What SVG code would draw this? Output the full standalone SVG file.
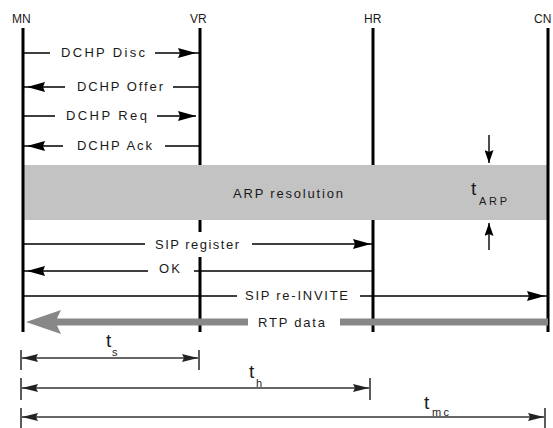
<svg xmlns="http://www.w3.org/2000/svg" width="553" height="428" viewBox="0 0 553 428">
<style>
  text { font-family: "Liberation Sans", Arial, sans-serif; fill: #1a1a1a; }
  .hdr { font-size: 12px; }
  .msg { font-size: 13px; }
  .life { stroke: #000; stroke-width: 3; fill: none; }
  .m { stroke: #000; stroke-width: 1.4; fill: none; }
  .dim { stroke: #333; stroke-width: 1.5; fill: none; }
  .tick { stroke: #333; stroke-width: 1.6; }
  .tbig { font-size: 19px; }
  .tsub { font-size: 11px; }
</style>
<defs>
  <marker id="ah" markerUnits="userSpaceOnUse" viewBox="0 0 18 10" refX="18" refY="5" markerWidth="18" markerHeight="10" orient="auto">
    <path d="M0 0 L18 5 L0 10 L2 5 Z" fill="#000"/>
  </marker>
  <marker id="dh" markerUnits="userSpaceOnUse" viewBox="0 0 16 8" refX="16" refY="4" markerWidth="16" markerHeight="8" orient="auto">
    <path d="M0 0 L16 4 L0 8 L2 4 Z" fill="#222"/>
  </marker>
  <marker id="vh" markerUnits="userSpaceOnUse" viewBox="0 0 13 9" refX="13" refY="4.5" markerWidth="13" markerHeight="9" orient="auto">
    <path d="M0 0 L13 4.5 L0 9 L2 4.5 Z" fill="#000"/>
  </marker>
</defs>
<rect width="553" height="428" fill="#fff"/>

<g id="arp">
  <rect x="23" y="165" width="525" height="55" fill="#c3c3c3"/>
  <text class="msg" x="233" y="198" textLength="110" lengthAdjust="spacing">ARP resolution</text>
</g>

<g id="MN">
  <text class="hdr" x="12" y="23">MN</text>
  <path class="life" d="M23 28 V332"/>
</g>
<g id="VR">
  <text class="hdr" x="190" y="23">VR</text>
  <path class="life" d="M200 28 V165 M200 220 V232 M200 257 V332"/>
</g>
<g id="HR">
  <text class="hdr" x="364" y="23">HR</text>
  <path class="life" d="M373 28 V165 M373 220 V332"/>
</g>
<g id="CN">
  <text class="hdr" x="534" y="23">CN</text>
  <path class="life" d="M548 28 V332"/>
</g>

<g id="connectors">
  <path class="m" d="M23 53 H50 M155 53 H200 M180 53 H196" marker-end="url(#ah)"/>
  <text class="msg" x="61" y="57" textLength="84" lengthAdjust="spacing">DCHP Disc</text>

  <path class="m" d="M200 87 H173 M65 87 H23 M40 87 H27" marker-end="url(#ah)"/>
  <text class="msg" x="77" y="90.5" textLength="86" lengthAdjust="spacing">DCHP Offer</text>

  <path class="m" d="M23 116 H55 M157 116 H196" marker-end="url(#ah)"/>
  <text class="msg" x="66" y="120" textLength="81" lengthAdjust="spacing">DCHP Req</text>

  <path class="m" d="M200 146 H165 M63 146 H23 M40 146 H27" marker-end="url(#ah)"/>
  <text class="msg" x="77" y="150" textLength="75" lengthAdjust="spacing">DCHP Ack</text>

  <path class="m" d="M23 244 H145 M252 244 H373 M360 244 H371" marker-end="url(#ah)"/>
  <text class="msg" x="155" y="248.5" textLength="84" lengthAdjust="spacing">SIP register</text>

  <path class="m" d="M373 271 H194 M148 271 H23 M40 271 H27" marker-end="url(#ah)"/>
  <text class="msg" x="159" y="272.5" textLength="21" lengthAdjust="spacing">OK</text>

  <path class="m" d="M23 296 H237 M360 296 H548 M535 296 H545" marker-end="url(#ah)"/>
  <text class="msg" x="245" y="300" textLength="103" lengthAdjust="spacing">SIP re-INVITE</text>

  <polygon points="26,322 61,310 57,318.5 248,318.5 248,325.5 57,325.5 61,334" fill="#878787"/>
  <rect x="340" y="318.5" width="208" height="7" fill="#878787"/>
  <text class="msg" x="258" y="327" textLength="67" lengthAdjust="spacing">RTP data</text>
</g>

<g id="tARP">
  <path class="m" d="M489 135 V163" marker-end="url(#vh)"/>
  <path class="m" d="M489 250 V223" marker-end="url(#vh)"/>
  <text class="tbig" x="471" y="195">t</text>
  <text class="tsub" x="479" y="205" textLength="28" lengthAdjust="spacing">ARP</text>
</g>

<g id="ts">
  <line class="tick" x1="21" y1="350" x2="21" y2="370"/>
  <line class="tick" x1="199" y1="350" x2="199" y2="370"/>
  <path class="dim" d="M100 358 H22" marker-end="url(#dh)"/>
  <path class="dim" d="M100 358 H198" marker-end="url(#dh)"/>
  <text class="tbig" x="106" y="347">t</text>
  <text class="tsub" x="112" y="356">s</text>
</g>
<g id="th">
  <line class="tick" x1="21" y1="378" x2="21" y2="400"/>
  <line class="tick" x1="370" y1="378" x2="370" y2="400"/>
  <path class="dim" d="M200 388 H22" marker-end="url(#dh)"/>
  <path class="dim" d="M200 388 H369" marker-end="url(#dh)"/>
  <text class="tbig" x="249" y="378">t</text>
  <text class="tsub" x="256" y="387">h</text>
</g>
<g id="tmc">
  <line class="tick" x1="21" y1="408" x2="21" y2="428"/>
  <line class="tick" x1="545" y1="408" x2="545" y2="428"/>
  <path class="dim" d="M300 417 H22" marker-end="url(#dh)"/>
  <path class="dim" d="M300 417 H544" marker-end="url(#dh)"/>
  <text class="tbig" x="424" y="409">t</text>
  <text class="tsub" x="432" y="416" textLength="17" lengthAdjust="spacing">mc</text>
</g>
</svg>
